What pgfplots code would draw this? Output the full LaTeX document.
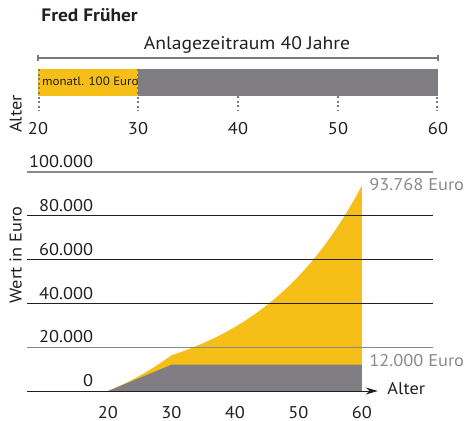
\documentclass[border=0pt]{standalone}
\usepackage{pgfplots}
\pgfplotsset{compat=1.18}
\usetikzlibrary{arrows.meta}
\usepackage{fontspec}
\setmainfont{PT Sans}[FakeStretch=1.08]
\definecolor{fyellow}{HTML}{F5BF17}
\definecolor{fgray}{HTML}{807E83}
\definecolor{ftext}{HTML}{231F20}
\definecolor{flabel}{HTML}{8A8A8A}
\definecolor{fdot}{HTML}{7A7A7A}
\newcommand{\fs}{\fontsize{8.5}{10}\selectfont}
\begin{document}
\begin{tikzpicture}
\useasboundingbox (0,0) rectangle (233pt,210pt);
% Title
\node[anchor=base west, inner sep=0, text=ftext, font=\fontsize{9}{10}\selectfont\bfseries] at (20.5pt,199.15pt) {Fred Früher};
% ---------------- top bar axis ----------------
\begin{axis}[
  at={(19pt,162pt)}, anchor=south west,
  scale only axis, width=200pt, height=13.5pt,
  xmin=20, xmax=60, ymin=0, ymax=1,
  clip=false,
  axis line style={draw=none},
  major tick length=0,
  ytick=\empty,
  xtick={20,30,40,50,60},
  xticklabel style={anchor=north, inner sep=0, yshift=-12.85pt, font=\fs, text=ftext},
  /pgf/number format/assume math mode=true,
]
\addplot[fill=fyellow, draw=none] coordinates {(20,1) (30,1)} \closedcycle;
\addplot[fill=fgray, draw=none] coordinates {(30,1) (60,1)} \closedcycle;
% dotted markers
\addplot[fdot, line width=0.6pt, dash pattern=on 1pt off 1.3pt] coordinates {(20.1,1) (20.1,-0.56)};
\addplot[fdot, line width=0.6pt, dash pattern=on 1pt off 1.3pt] coordinates {(30,1) (30,-0.56)};
\addplot[fdot, line width=0.6pt, dash pattern=on 1pt off 1.3pt] coordinates {(40,0) (40,-0.56)};
\addplot[fdot, line width=0.6pt, dash pattern=on 1pt off 1.3pt] coordinates {(50,0) (50,-0.56)};
\addplot[fdot, line width=0.6pt, dash pattern=on 1pt off 1.3pt] coordinates {(59.9,1) (59.9,-0.56)};
% bracket
\addplot[fdot, line width=0.55pt] coordinates {(20,1.407) (60,1.407)};
\addplot[fdot, line width=0.55pt] coordinates {(20,1.30) (20,1.52)};
\addplot[fdot, line width=0.55pt] coordinates {(60,1.30) (60,1.52)};
\node[anchor=base, inner sep=0, font=\fontsize{9.1}{10}\selectfont, text=ftext] at (axis cs:40.9,1.73) {Anlagezeitraum 40 Jahre};
\node[anchor=west, inner sep=0, font=\fontsize{6}{7}\selectfont, text=ftext] at (axis cs:20.37,0.53) {monatl. 100 Euro};
\end{axis}
\node[anchor=base, rotate=90, inner sep=0, font=\fs, text=ftext] at (10.85pt,153pt) {Alter};
% ---------------- bottom area axis ----------------
\begin{axis}[
  at={(13.5pt,14.5pt)}, anchor=south west,
  scale only axis, width=203pt, height=109.5pt,
  xmin=7.24, xmax=71.2, ymin=0, ymax=100000,
  clip=false,
  axis line style={draw=none},
  major tick length=0,
  scaled y ticks=false,
  xtick={20,30,40,50,60},
  ytick={0,20000,40000,60000,80000,100000},
  yticklabels={0,20.000,40.000,60.000,80.000,100.000},
  xticklabel style={anchor=north, inner sep=0, yshift=-7.3pt, font=\fs, text=ftext},
  yticklabel style={anchor=base east, inner sep=0, xshift=33.25pt, yshift=2.15pt, font=\fs, text=ftext},
  /pgf/number format/assume math mode=true,
]
\addplot[fill=fyellow, draw=none] coordinates {
 (20,0) (21,1234) (22,2543) (23,3934) (24,5410) (25,6977) (26,8640) (27,10406) (28,12281) (29,14271)
 (30,16326) (31,17306) (32,18344) (33,19445) (34,20611) (35,21848) (36,23159) (37,24549) (38,26022) (39,27583)
 (40,29238) (41,30992) (42,32852) (43,34823) (44,36912) (45,39127) (46,41475) (47,43963) (48,46601) (49,49397)
 (50,52361) (51,55503) (52,58833) (53,62363) (54,66105) (55,70071) (56,74275) (57,78732) (58,83456) (59,88463)
 (60,93768)} \closedcycle;
\addplot[fill=fgray, draw=none] coordinates {(20,0) (30,12000) (60,12000)} \closedcycle;
% grid lines
\addplot[color=flabel, line width=0.65pt] coordinates {(7.24,100000) (71.2,100000)};
\addplot[color=ftext, line width=0.4pt] coordinates {(7.24,80000) (71.2,80000)};
\addplot[color=ftext, line width=0.4pt] coordinates {(7.24,60000) (71.2,60000)};
\addplot[color=ftext, line width=0.4pt] coordinates {(7.24,40000) (71.2,40000)};
\addplot[color=flabel, line width=0.55pt] coordinates {(7.24,20000) (71.2,20000)};
\addplot[color=ftext, line width=0.5pt, -{Stealth[length=6pt,width=3.5pt]}] coordinates {(7.24,0) (62.5,0)};
\end{axis}
\node[anchor=base, rotate=90, inner sep=0, font=\fs, text=ftext] at (10.85pt,82.5pt) {Wert in Euro};
\node[anchor=base west, inner sep=0, font=\fs, text=flabel] at (184.5pt,115pt) {93.768 Euro};
\node[anchor=base west, inner sep=0, font=\fs, text=flabel] at (184.5pt,27pt) {12.000 Euro};
\node[anchor=base west, inner sep=0, font=\fs, text=ftext] at (193.5pt,12.85pt) {Alter};
\end{tikzpicture}
\end{document}
